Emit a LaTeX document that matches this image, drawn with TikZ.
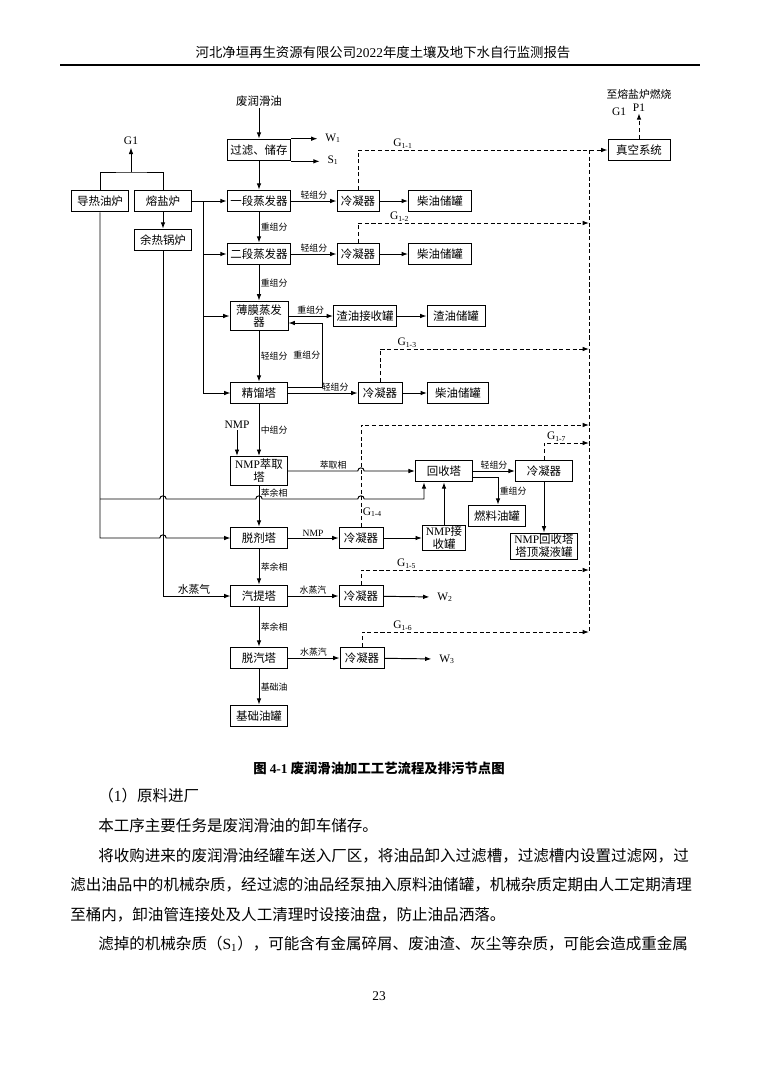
\documentclass[tikz,border=0pt]{standalone}
\usepackage{fontspec}
\setmainfont{Liberation Serif}
\newfontfamily\cjk{Noto Sans CJK SC}
\usetikzlibrary{arrows.meta}
\tikzset{>={Latex[length=5pt,width=3.6pt]}}
\tikzset{box/.style={draw, line width=0.75pt, inner sep=1pt, minimum height=17pt, align=center, font=\cjk\fontsize{9}{10}\selectfont}}
\tikzset{lbl/.style={font=\cjk\fontsize{7}{8}\selectfont, inner sep=1pt}}
\tikzset{tag/.style={font=\fontsize{9}{10}\selectfont, inner sep=1pt}}
\tikzset{flow/.style={->, line width=0.75pt}}
\tikzset{pipe/.style={line width=0.75pt}}
\tikzset{gas/.style={line width=0.75pt, dash pattern=on 3.2pt off 2pt}}
\tikzset{txt/.style={font=\cjk\fontsize{12.2}{14}\selectfont, anchor=west, inner sep=0pt}}

\begin{document}
\begin{tikzpicture}[x=0.785pt, y=-0.785pt]
    \useasboundingbox (0,0) rectangle (758,1066);
    \fill[white] (0,0) rectangle (758,1066);

    \node[font=\cjk\fontsize{10.5}{12}\selectfont] (H) at (383,52) {河北净垣再生资源有限公司{\rmfamily 2022}年度土壤及地下水自行监测报告};
    \draw[line width=0.8pt] (60,65) -- (700,65);

    \node[font=\cjk\fontsize{9}{10}\selectfont, inner sep=1pt] (FD) at (259,101) {废润滑油};
    \node[box, minimum width=50pt] (FL) at (259,150) {过滤、储存};
    \node[tag] (W1) at (333,138) {W\textsubscript{1}};
    \node[tag] (S1) at (333,160) {S\textsubscript{1}};
    \node[box, minimum width=45pt] (HO) at (100,201) {导热油炉};
    \node[box, minimum width=45pt] (MS) at (163,201) {熔盐炉};
    \node[box, minimum width=45pt] (WH) at (163,240) {余热锅炉};
    \node[tag] (G1) at (131,141) {G1};
    \coordinate (GJ) at (131,172);

    \node[box, minimum width=50pt] (E1) at (259,201) {一段蒸发器};
    \node[box, minimum width=50pt] (E2) at (259,254) {二段蒸发器};
    \node[box, minimum width=45.5pt, minimum height=23.5pt] (TF) at (259,316) {薄膜蒸发\\器};
    \node[box, minimum width=44pt] (RC) at (259,393) {精馏塔};
    \node[box, minimum width=44pt, minimum height=23pt] (EX) at (259,471) {{\rmfamily NMP}萃取\\塔};
    \node[box, minimum width=44pt] (SR) at (259,538) {脱剂塔};
    \node[box, minimum width=44pt] (ST) at (259,596) {汽提塔};
    \node[box, minimum width=44pt] (DS) at (259,658) {脱汽塔};
    \node[box, minimum width=44pt] (BO) at (259,716) {基础油罐};
    \node[tag] (NM) at (237,425) {NMP};

    \node[box, minimum width=33pt] (K1) at (358,201) {冷凝器};
    \node[box, minimum width=33pt] (K2) at (358,254) {冷凝器};
    \node[box, minimum width=34.5pt] (K3) at (380,393) {冷凝器};
    \node[box, minimum width=34.5pt] (K4) at (361,538) {冷凝器};
    \node[box, minimum width=45pt] (K5) at (544,471) {冷凝器};
    \node[box, minimum width=34.5pt] (K6) at (361,596) {冷凝器};
    \node[box, minimum width=34.5pt] (K7) at (362,658) {冷凝器};
    \node[box, minimum width=49.5pt] (D1) at (440,201) {柴油储罐};
    \node[box, minimum width=49.5pt] (D2) at (440,254) {柴油储罐};
    \node[box, minimum width=48pt] (D3) at (458,393) {柴油储罐};
    \node[box, minimum width=49.5pt] (ZS) at (365,316) {渣油接收罐};
    \node[box, minimum width=45.5pt] (ZC) at (456,316) {渣油储罐};
    \node[box, minimum width=45pt] (RT) at (444,471) {回收塔};
    \node[box, minimum width=34pt, minimum height=19pt] (NJ) at (444,538) {{\rmfamily NMP}接\\收罐};
    \node[box, minimum width=45pt] (FO) at (497,516) {燃料油罐};
    \node[box, minimum width=52.6pt, minimum height=20.4pt] (NH) at (544,546) {{\rmfamily NMP}回收塔\\塔顶凝液罐};
    \node[tag] (W2) at (445,597) {W\textsubscript{2}};
    \node[tag] (W3) at (447,659) {W\textsubscript{3}};

    \node[box, minimum width=48.7pt] (VS) at (639,150) {真空系统};
    \node[tag] (P1) at (639,108) {P1};
    \node[tag] (GV) at (619,112) {G1};
    \node[font=\cjk\fontsize{8.5}{10}\selectfont, inner sep=1pt] (TO) at (639,94) {至熔盐炉燃烧};

    \coordinate (CT) at (589,150);
    \coordinate (C2) at (589,223);
    \coordinate (C3) at (589,349);
    \coordinate (C4) at (589,425);
    \coordinate (C7) at (589,443);
    \coordinate (C5) at (589,570);
    \coordinate (C6) at (589,632);
    \coordinate (J) at (203,201);
    \coordinate (R1) at (322,387);
    \coordinate (R2) at (322,323);
    \coordinate (B1) at (100,499);
    \coordinate (B2) at (424,499);
    \coordinate (HZ) at (498,477);

    \draw[flow] (FD) -- (FL);
    \draw[flow, shorten >=5pt] (FL.north east) -- (FL.north east -| W1.west);
    \draw[flow, shorten >=5pt] (FL.south east) -- (FL.south east -| S1.west);
    \draw[pipe] (HO.north) |- (GJ) -| (MS.north);
    \draw[flow, shorten >=1pt] (GJ) -- (G1.south);
    \draw[flow] (MS) -- (WH);

    \draw[flow] (FL) -- (E1);
    \draw[flow] (E1) -- (E2) node[lbl, midway, right] {重组分};
    \draw[flow] (E2) -- (TF) node[lbl, midway, right] {重组分};
    \draw[flow] (TF) -- (RC) node[lbl, midway, right] {轻组分};
    \draw[flow] (RC) -- (EX) node[lbl, midway, right] {中组分};
    \draw[flow] (EX) -- (SR) node[lbl, pos=0.16, right] {萃余相};
    \draw[flow] (SR) -- (ST) node[lbl, midway, right] {萃余相};
    \draw[flow] (ST) -- (DS) node[lbl, midway, right] {萃余相};
    \draw[flow] (DS) -- (BO) node[lbl, midway, right] {基础油};
    \draw[flow] (NM) -- (NM |- EX.north);

    \draw[flow] (MS.east) -- (E1.west);
    \draw[pipe] (J) -- (J |- RC);
    \draw[flow] (J |- E2) -- (E2.west);
    \draw[flow] (J |- TF) -- (TF.west);
    \draw[flow] (J |- RC) -- (RC.west);

    \draw[flow] (E1) -- (K1) node[lbl, midway, above] {轻组分};
    \draw[flow] (K1) -- (D1);
    \draw[flow] (E2) -- (K2) node[lbl, midway, above] {轻组分};
    \draw[flow] (K2) -- (D2);
    \draw[flow] (TF) -- (ZS) node[lbl, midway, above] {重组分};
    \draw[flow] (ZS) -- (ZC);
    \draw[flow] (RC.east |- R1) -- (R1) -- (R2) node[lbl, midway, left] {重组分} -- (TF.east |- R2);
    \draw[flow] (RC) -- (K3) node[lbl, pos=0.68, above] {轻组分};
    \draw[flow] (K3) -- (D3);

    \draw[flow] (EX.east) -- (357.8,471) node[lbl, pos=0.65, above] {萃取相} arc[start angle=180, end angle=0, radius=2.5pt] -- (RT.west);
    \draw[flow] (B1) -- (159.8,499) arc[start angle=180, end angle=0, radius=2.5pt] -- (255.8,499) arc[start angle=180, end angle=0, radius=2.5pt] -- (357.8,499) arc[start angle=180, end angle=0, radius=2.5pt] -- (B2) -- (B2 |- RT.south);
    \draw[flow] (HO.south) -- (100,538) -- (159.8,538) arc[start angle=180, end angle=0, radius=2.5pt] -- (SR.west);
    \draw[flow] (WH.south) |- (ST.west) node[pos=0.73, above, font=\cjk\fontsize{8.5}{10}\selectfont, inner sep=1pt] {水蒸气};

    \draw[flow] (SR) -- (K4) node[midway, above, font=\fontsize{7.5}{8}\selectfont, inner sep=0.5pt] {NMP};
    \draw[flow] (K4) -- (NJ);
    \draw[flow] (NJ) -- (RT);
    \draw[flow] (RT) -- (K5) node[lbl, midway, above] {轻组分};
    \draw[flow] (RT.east |- HZ) -- (HZ) -- (HZ |- FO.north) node[lbl, midway, right] {重组分};
    \draw[flow] (K5) -- (NH);
    \draw[flow] (ST) -- (K6) node[lbl, midway, above] {水蒸汽};
    \draw[flow, shorten >=5pt] (K6) -- (W2.west);
    \draw[flow] (DS) -- (K7) node[lbl, midway, above] {水蒸汽};
    \draw[flow, shorten >=5pt] (K7) -- (W3.west);

    \draw[gas, ->] (K1.north) |- (VS.west) node[tag, pos=0.59, above] {G\textsubscript{1-1}};
    \draw[gas, ->] (K2.north) |- (C2) node[tag, pos=0.59, above] {G\textsubscript{1-2}};
    \draw[gas, ->] (K3.north) |- (C3) node[tag, pos=0.565, above] {G\textsubscript{1-3}};
    \draw[gas, ->] (K4.north) |- (C4) node[tag, pos=0.07, right] {G\textsubscript{1-4}};
    \draw[gas, ->] (K5.north) |- (C7) node[tag, pos=0.64, above] {G\textsubscript{1-7}};
    \draw[gas, ->] (K6.north) |- (C5) node[tag, pos=0.6, above] {G\textsubscript{1-5}};
    \draw[gas, ->] (K7.north) |- (C6) node[tag, pos=0.59, above] {G\textsubscript{1-6}};
    \draw[gas] (CT) -- (C6);
    \draw[gas, ->] (VS.north) -- (P1.south);

    \node[font=\cjk\bfseries\fontsize{10.5}{12}\selectfont] (CAP) at (379,768) {图 {\rmfamily 4-1} 废润滑油加工工艺流程及排污节点图};
    \node[txt] (T0) at (98,796) {（{\rmfamily 1}）原料进厂};
    \node[txt] (T1) at (98,826) {本工序主要任务是废润滑油的卸车储存。};
    \node[txt] (T2) at (98,856) {将收购进来的废润滑油经罐车送入厂区，将油品卸入过滤槽，过滤槽内设置过滤网，过};
    \node[txt] (T3) at (70,885) {滤出油品中的机械杂质，经过滤的油品经泵抽入原料油储罐，机械杂质定期由人工定期清理};
    \node[txt] (T4) at (70,915) {至桶内，卸油管连接处及人工清理时设接油盘，防止油品洒落。};
    \node[txt] (T5) at (98,944) {滤掉的机械杂质（{\rmfamily S\textsubscript{1}}），可能含有金属碎屑、废油渣、灰尘等杂质，可能会造成重金属};
    \node[font=\fontsize{10.5}{12}\selectfont] (PG) at (379,996) {23};

\end{tikzpicture}
\end{document}
